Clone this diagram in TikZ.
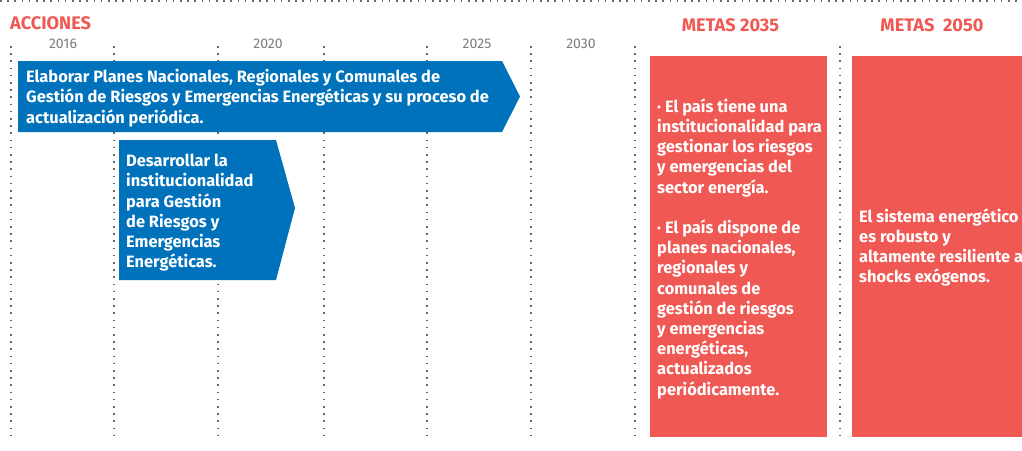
\documentclass[tikz,border=0pt]{standalone}
\usepackage{fontspec}
\setmainfont{Fira Sans}
\definecolor{govblue}{RGB}{0,114,188}
\definecolor{govred}{RGB}{240,88,83}
\definecolor{dotgray}{RGB}{105,105,105}
\definecolor{yeargray}{RGB}{125,125,125}
\newcommand{\mytopstrut}{\rule{0pt}{17pt}}
\begin{document}
\begin{tikzpicture}[x=1pt,y=-1pt,
  dotline/.style={draw=dotgray, line width=1.5pt, dash pattern=on 1.5pt off 5.7pt},
  head/.style={text=govred, font=\fontsize{18.2}{21}\selectfont\bfseries, inner sep=0pt},
  yearlbl/.style={text=yeargray, font=\fontsize{14}{16}\selectfont, inner sep=0pt},
  body/.style={text=white, font=\fontsize{16.4}{20.2}\selectfont\bfseries, align=left, inner sep=0pt, anchor=north west},
  ]
\useasboundingbox (0,0) rectangle (1022,450);
\fill[white] (0,0) rectangle (1022,450);

% dotted grid
\coordinate (h0) at (0,1);
\coordinate (h1) at (1022,1);
\draw[dotline] (h0) -- (h1);
\foreach \x [count=\i] in {11,114,218,324,427,531,635,840}{
  \coordinate (t\i) at (\x,46);
  \coordinate (b\i) at (\x,437);
  \draw[dotline] (t\i) -- (b\i);
}

% headers
\node[head, anchor=base west] (acc) at (10,29) {ACCIONES};
\node[head, anchor=base] (m35) at (730.5,31) {METAS 2035};
\node[head, anchor=base] (m50) at (932,31) {METAS\ \ 2050};

% years
\node[yearlbl, anchor=base] (y16) at (63,48.5) {2016};
\node[yearlbl, anchor=base] (y20) at (268,48.5) {2020};
\node[yearlbl, anchor=base] (y25) at (477,48.5) {2025};
\node[yearlbl, anchor=base] (y30) at (581,48.5) {2030};

% action arrows
\fill[govblue] (18,61) -- (502,61) -- (520,96.5) -- (502,132) -- (18,132) -- cycle;
\fill[govblue] (119,140) -- (276,140) -- (295,208) -- (276,280) -- (119,280) -- cycle;

% goal boxes
\fill[govred] (650,56) rectangle (827,437);
\fill[govred] (852,56) rectangle (1030,437);

% texts
\node[body] (a1) at (26,65.5) {\mytopstrut Elaborar Planes Nacionales, Regionales y Comunales de\\
Gestión de Riesgos y Emergencias Energéticas y su proceso de\\
actualización periódica.};
\node[body] (a2) at (126,149.5) {\mytopstrut Desarrollar la\\
institucionalidad\\
para Gestión\\
de Riesgos y\\
Emergencias\\
Energéticas.};
\node[body] (g1) at (657,95) {\mytopstrut · El país tiene una\\
institucionalidad para\\
gestionar los riesgos\\
y emergencias del\\
sector energía.\\[20.2pt]
· El país dispone de\\
planes nacionales,\\
regionales y\\
comunales de\\
gestión de riesgos\\
y emergencias\\
energéticas,\\
actualizados\\
periódicamente.};
\node[body] (g2) at (859,205) {\mytopstrut El sistema energético\\
es robusto y\\
altamente resiliente a\\
shocks exógenos.};
\end{tikzpicture}
\end{document}
